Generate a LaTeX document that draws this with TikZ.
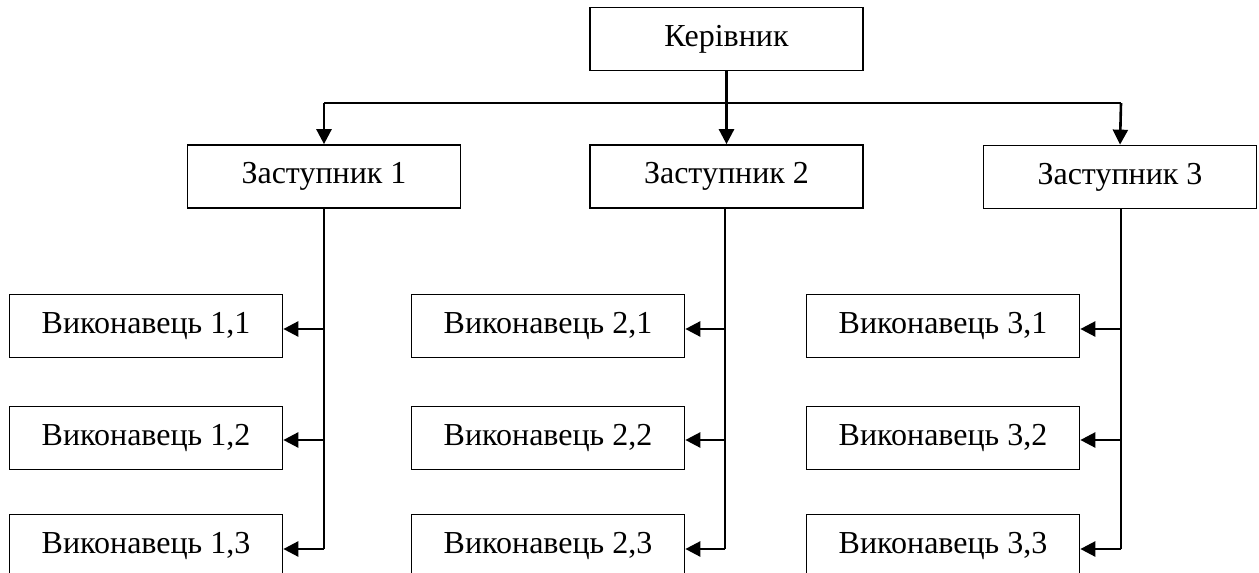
\documentclass[tikz,border=0pt]{standalone}
\usepackage{fontspec}
\setmainfont{Liberation Serif}
\usetikzlibrary{arrows.meta}
\begin{document}
\begin{tikzpicture}[x=1pt,y=-1pt,
  box/.style={draw,line width=1.7pt,minimum width=273pt,minimum height=63pt,inner sep=0pt,font=\fontsize{32}{38}\selectfont},
  conn/.style={line width=2.6pt},
  arr/.style={conn,-{Triangle[length=15pt,width=15pt]}}]
\useasboundingbox (0,0) rectangle (1259,573);
\clip (0,0) rectangle (1259,573);
\node[box] (boss) at (726.5,39) {Керівник};
\node[box] (z1) at (324,176.5) {Заступник 1};
\node[box] (z2) at (726.5,176.5) {Заступник 2};
\node[box] (z3) at (1120,177) {Заступник 3};
\foreach \c/\x in {1/146,2/548,3/943}{
  \node[box] (v\c1) at (\x,326) {Виконавець \c,1};
  \node[box] (v\c2) at (\x,438) {Виконавець \c,2};
  \node[box] (v\c3) at (\x,546) {Виконавець \c,3};
}
\coordinate (hl) at (324,103);
\coordinate (hr) at (1121,103);
\draw[conn] (hl) -- (hr);
\draw[arr] (hl) -- (z1.north);
\draw[arr] (boss.south) -- (z2.north);
\draw[arr] (hr) -- (z3.north);
\foreach \c/\t in {1/324,2/725,3/1121}{
  \coordinate (t\c) at (\t,549);
  \draw[conn] (z\c.south -| t\c) -- (t\c);
  \draw[arr] (\t,329) -- (v\c1.east |- 0,329);
  \draw[arr] (\t,440) -- (v\c2.east |- 0,440);
  \draw[arr] (t\c) -- (v\c3.east |- t\c);
}
\end{tikzpicture}
\end{document}
